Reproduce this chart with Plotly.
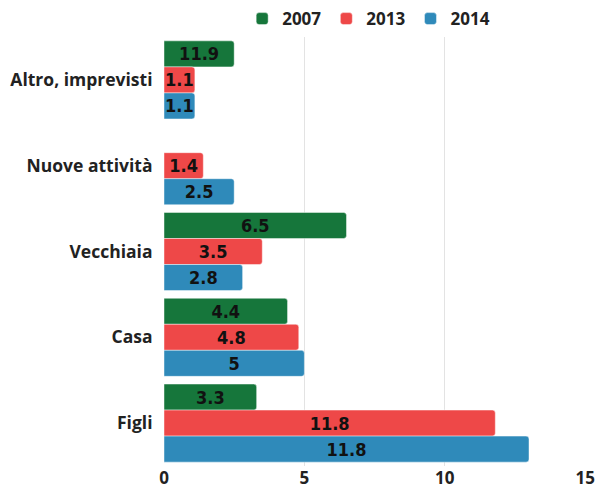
import plotly.graph_objects as go

categories = ["Altro, imprevisti", "Nuove attività", "Vecchiaia", "Casa", "Figli"]
years = ["2007", "2013", "2014"]
values_2007 = [2.5, None, 6.5, 4.4, 3.3]
values_2013 = [1.1, 1.4, 3.5, 4.8, 11.8]
values_2014 = [1.1, 2.5, 2.8, 5.0, 13.0]
labels_2007 = ["11.9", "", "6.5", "4.4", "3.3"]
labels_2013 = ["1.1", "1.4", "3.5", "4.8", "11.8"]
labels_2014 = ["1.1", "2.5", "2.8", "5", "11.8"]
x_ticks = [0, 5, 10, 15]

colors = ["#16763b", "#ee4848", "#2f8aba"]
series = [values_2007, values_2013, values_2014]
labels = [labels_2007, labels_2013, labels_2014]

fig = go.Figure()
for yr, vals, txt, col in zip(years, series, labels, colors):
    fig.add_trace(go.Bar(
        y=categories, x=vals, name=yr, orientation="h",
        text=txt, textposition="inside", insidetextanchor="middle",
        textangle=0, constraintext="none",
        textfont=dict(family="DejaVu Sans Condensed", size=18, weight="bold",
                      color="#111111"),
        marker=dict(color=col, cornerradius=3,
                    line=dict(color="rgba(255,255,255,0.45)", width=1)),
        hoverinfo="skip",
    ))

fig.update_layout(
    width=596, height=489,
    margin=dict(l=164, r=10, t=37, b=23, autoexpand=False),
    barmode="group", bargap=0.09, bargroupgap=0.0,
    plot_bgcolor="white", paper_bgcolor="white",
    font=dict(family="Open Sans", color="#222222"),
    legend=dict(orientation="h", x=0.485, xanchor="center",
                yref="container", y=0.961, yanchor="middle",
                font=dict(size=17, weight="bold", color="#222222"),
                itemwidth=30, traceorder="normal"),
    xaxis=dict(range=[0, 15.03], tickvals=x_ticks, showgrid=True,
               gridcolor="#e3e3e3", gridwidth=1, zeroline=False,
               showline=False, ticks="", automargin=False,
               ticklabeloverflow="allow",
               tickfont=dict(size=17, weight="bold", color="#222222")),
    yaxis=dict(autorange="reversed", showgrid=False, zeroline=False,
               showline=False, ticks="outside", ticklen=7,
               tickcolor="rgba(0,0,0,0)", automargin=False,
               tickfont=dict(size=17.5, weight="bold", color="#222222")),
)

# remove the page's default body margin and scrollbars so the figure fills the window
post = ("document.body.style.margin='0';"
        "document.body.style.overflow='hidden';"
        "document.documentElement.style.overflow='hidden';")
fig.write_html("out.html", post_script=post,
               config={"displayModeBar": False, "staticPlot": True})
